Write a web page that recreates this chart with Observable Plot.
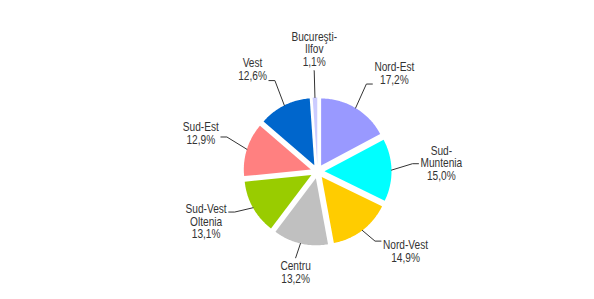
<!DOCTYPE html>
<html>
<head>
<meta charset="utf-8">
<script src="https://cdn.jsdelivr.net/npm/d3@7"></script>
<script src="https://cdn.jsdelivr.net/npm/@observablehq/plot@0.6"></script>
<style>
  html, body { margin: 0; padding: 0; background: #fff; }
</style>
</head>
<body>
<div id="chart"></div>
<script>
// ---- data ----
const regions = ["Nord-Est", "Sud-Muntenia", "Nord-Vest", "Centru", "Sud-Vest Oltenia", "Sud-Est", "Vest", "Bucureşti-Ilfov"];
const labelLines = ["Nord-Est", "Sud-\nMuntenia", "Nord-Vest", "Centru", "Sud-Vest\nOltenia", "Sud-Est", "Vest", "Bucureşti-\nIlfov"];
const shares = [17.2, 15.0, 14.9, 13.2, 13.1, 12.9, 12.6, 1.1];
const colors = ["#9999FF", "#00FFFF", "#FFCC00", "#C0C0C0", "#99CC00", "#FF8080", "#0066CC", "#CCCCFF"];

// ---- layout ----
const W = 594, H = 299;
const cx = 317, cy = 171, R = 67, explode = 7;
const labelCy = cy - 6;
const rElbow = 95, stub = 6, gap = 2;
const fontSize = 13, lineH = 12.8, squeeze = 0.78;
const fontFamily = "'Liberation Sans Narrow', 'Arial Narrow', 'Liberation Sans', Arial, sans-serif";

const fmt = v => d3.format(".1f")(v).replace(".", ",") + "%";

const ctx = document.createElement("canvas").getContext("2d");
ctx.font = `${fontSize}px ${fontFamily}`;

const arcs = d3.pie().sort(null).value(d => d)(shares);

const slicePts = [];
const leaderPts = [];
const labels = [];

arcs.forEach((a, i) => {
  const name = regions[i];
  const mid = (a.startAngle + a.endAngle) / 2;
  const ox = cx + explode * Math.sin(mid), oy = cy - explode * Math.cos(mid);
  slicePts.push({name, x: ox, y: oy});
  const n = Math.max(2, Math.ceil((a.endAngle - a.startAngle) / (Math.PI / 180)));
  for (let k = 0; k <= n; k++) {
    const t = a.startAngle + (a.endAngle - a.startAngle) * k / n;
    slicePts.push({name, x: ox + R * Math.sin(t), y: oy - R * Math.cos(t)});
  }
  // leader + label
  const s = Math.sin(mid), c = Math.cos(mid);
  const p0 = {x: cx + (R + explode) * s, y: cy - (R + explode) * c};
  const e = {x: cx + rElbow * s, y: labelCy - rElbow * c};
  const hAnchor = s > 0.3 ? "start" : s < -0.3 ? "end" : "middle";
  const text = labelLines[i] + "\n" + fmt(shares[i]);
  const lines = text.split("\n");
  const w = d3.max(lines, l => ctx.measureText(l).width) * squeeze;
  const h = lines.length * lineH;
  const end = {...e};
  let tx = e.x, ty = e.y;
  if (hAnchor === "start") { end.x = e.x + stub; tx = end.x + gap + w / 2; ty = e.y - c * h * 0.5; }
  else if (hAnchor === "end") { end.x = e.x - stub; tx = end.x - gap - w / 2; ty = e.y - c * h * 0.5; }
  else if (c > 0) { ty = e.y - gap - h / 2; }
  else { ty = e.y + gap + h / 2; }
  leaderPts.push({name, x: p0.x, y: p0.y}, {name, x: e.x, y: e.y}, {name, x: end.x, y: end.y});
  labels.push({name, text, x: tx, y: ty});
});

const chart = Plot.plot({
  width: W,
  height: H,
  margin: 0,
  x: {type: "identity", axis: null},
  y: {type: "identity", axis: null},
  color: {domain: regions, range: colors},
  style: {background: "#fff"},
  marks: [
    Plot.line(slicePts, {x: "x", y: "y", z: "name", fill: "name", stroke: "none", curve: "linear-closed"}),
    Plot.line(leaderPts, {x: "x", y: "y", z: "name", stroke: "#333", strokeWidth: 1}),
    Plot.text(labels, {x: "x", y: "y", text: "text", fill: "#333", fontSize, fontFamily, lineHeight: lineH / fontSize, textAnchor: "middle", lineAnchor: "middle"})
  ]
});
// narrow the label glyphs horizontally (the original uses a condensed face)
chart.querySelectorAll("text").forEach(t => {
  const tr = t.getAttribute("transform") || "";
  t.setAttribute("transform", tr + ` scale(${squeeze},1)`);
});
document.getElementById("chart").appendChild(chart);
</script>
</body>
</html>
